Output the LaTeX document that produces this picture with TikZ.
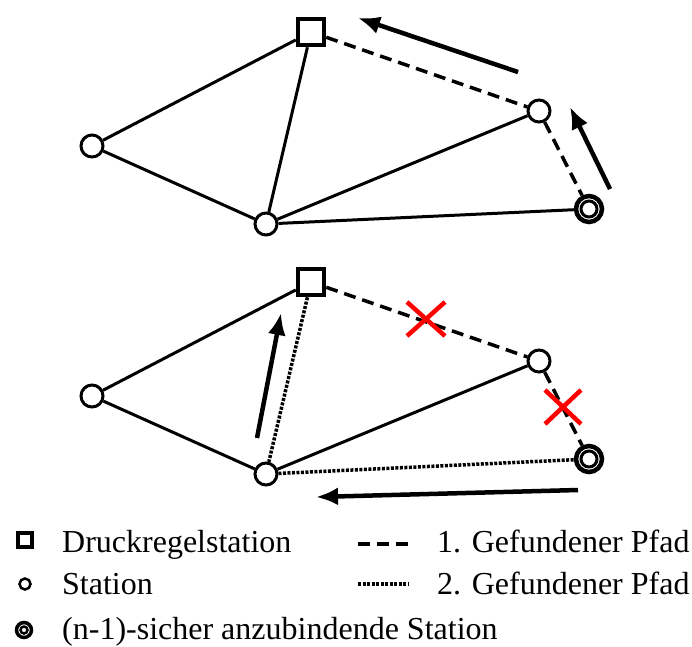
\documentclass[tikz,border=0pt]{standalone}
\usepackage{fontspec}
\setmainfont{Liberation Serif}
\usetikzlibrary{arrows.meta}

\tikzset{
	drs/.style={rectangle, draw, line width=4.5pt, fill=white, minimum size=26pt, inner sep=0pt},
	station/.style={circle, draw, line width=3pt, fill=white, minimum size=22pt, inner sep=0pt},
	ziel/.style={circle, draw, line width=4.5pt, fill=white, minimum size=26pt, inner sep=0pt},
	kante/.style={line width=3pt},
	pfadA/.style={line width=3.5pt, dash pattern=on 12pt off 7pt},
	pfadB/.style={line width=3.5pt, dash pattern=on 3pt off 1.5pt},
	suche/.style={line width=4.5pt, -{Latex[length=22pt, width=18pt]}},
	sperre/.style={line width=4.5pt, red},
	legende/.style={anchor=base west, inner sep=0pt, font=\fontsize{32}{38}\selectfont}
}

\begin{document}
\begin{tikzpicture}[x=1pt, y=-1pt]

\path [use as bounding box] (0,0) rectangle (692,646);

% Function: stations of one net
% #1 : prefix
% #2 : y offset
\newcommand{\stationen}[2]{%
	\node [drs] (#1d) at (311,32+#2) {};
	\node [station] (#1l) at (92,146+#2) {};
	\node [station] (#1u) at (266,224+#2) {};
	\node [station] (#1r) at (539,111+#2) {};
	\node [ziel] (#1z) at (589,209+#2) {};
	\draw [line width=3pt] (#1z) circle (8pt);
}

% UPPER NET
\stationen{a}{0}
\draw [kante] (ad) -- (al);
\draw [kante] (ad) -- (au);
\draw [kante] (al) -- (au);
\draw [kante] (au) -- (ar);
\draw [kante] (au) -- (az);
\draw [pfadA] (ad) -- (ar);
\draw [pfadA] (ar) -- (az);

\coordinate (a1s) at (518,72);
\coordinate (a1e) at (358,18);
\coordinate (a2s) at (610,189);
\coordinate (a2e) at (570,107);
\draw [suche] (a1s) -- (a1e);
\draw [suche] (a2s) -- (a2e);

% LOWER NET
\stationen{b}{250}
\draw [kante] (bd) -- (bl);
\draw [pfadB] (bd) -- (bu);
\draw [kante] (bl) -- (bu);
\draw [kante] (bu) -- (br);
\draw [pfadB] (bu) -- (bz);
\draw [pfadA] (bd) -- (br);
\draw [pfadA] (br) -- (bz);

\coordinate (b1s) at (257,438);
\coordinate (b1e) at (281,313);
\coordinate (b2s) at (578,490);
\coordinate (b2e) at (316,497);
\draw [suche] (b1s) -- (b1e);
\draw [suche] (b2s) -- (b2e);

% BLOCKED EDGES
\coordinate (x1) at (426,319);
\coordinate (x2) at (563,407);
\draw [sperre] (x1) +(-19,-17) -- +(19,17) +(-19,17) -- +(19,-17);
\draw [sperre] (x2) +(-18,-17) -- +(18,17) +(-18,17) -- +(18,-17);

% LEGEND
\node [rectangle, draw, line width=4pt, minimum size=14pt, inner sep=0pt] (lq) at (25,540) {};
\node [legende] (lqt) at (62,552) {Druckregelstation};
\node [circle, draw, line width=2.5pt, minimum size=11pt, inner sep=0pt] (lk) at (25,584) {};
\node [legende] (lkt) at (62,594) {Station};
\node [circle, draw, line width=3.5pt, minimum size=15pt, inner sep=0pt] (lz) at (24,630) {};
\draw [line width=2.5pt] (lz) circle (3.5pt);
\node [legende] (lzt) at (62,639) {(n-1)-sicher anzubindende Station};

\coordinate (lp1) at (358,544);
\draw [pfadA] (lp1) -- +(50,0);
\node [legende] (lp1t) at (437,552) {1. Gefundener Pfad};
\coordinate (lp2) at (358,584);
\draw [pfadB] (lp2) -- +(50,0);
\node [legende] (lp2t) at (437,594) {2. Gefundener Pfad};

\end{tikzpicture}
\end{document}
